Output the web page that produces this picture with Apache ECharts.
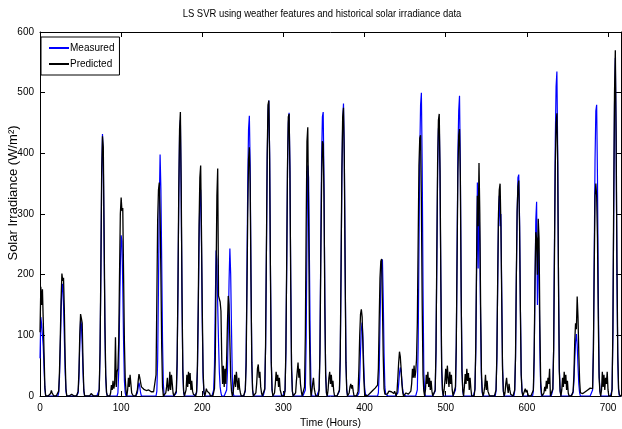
<!DOCTYPE html>
<html>
<head>
<meta charset="utf-8">
<script src="https://cdn.jsdelivr.net/npm/echarts@6/dist/echarts.min.js"></script>
<style>
  html, body { margin: 0; background: #fff; }
  #chart { width: 622px; height: 429px; }
</style>
</head>
<body>
<div id="chart"></div>
<script>
// hourly series, stored as runs: [startHour, value, value, ...]; hours outside a run are 0
const lastHour = 716

const measuredRuns = [
  [0, 62, 130, 118, 100, 82, 45, 12],
  [23, 5, 30, 80, 140, 178, 185, 150, 95, 40, 8],
  [47, 5, 30, 85, 125, 118, 85, 40, 8],
  [73, 10, 70, 200, 360, 432, 390, 250, 110, 30, 5],
  [96, 5, 40, 130, 215, 265, 255, 180, 90, 25, 5],
  [120, 5, 15, 22, 15, 5],
  [144, 8, 60, 180, 320, 398, 340, 220, 90, 20],
  [168, 5, 50, 170, 320, 430, 455, 330, 160, 40, 5],
  [193, 5, 40, 130, 250, 330, 340, 250, 120, 30, 5],
  [214, 10, 50, 150, 240, 225, 150, 90, 40, 15, 5],
  [230, 10, 40, 110, 190, 243, 200, 110, 30, 5],
  [253, 8, 60, 200, 350, 440, 462, 380, 200, 60, 10],
  [277, 10, 80, 230, 390, 470, 487, 400, 210, 60, 10],
  [302, 8, 70, 210, 370, 450, 467, 380, 190, 50, 8],
  [327, 10, 90, 260, 380, 360, 230, 90, 15],
  [344, 10, 80, 240, 390, 460, 468, 350, 160, 40, 5],
  [369, 8, 60, 200, 360, 450, 482, 400, 220, 60, 10],
  [393, 5, 30, 75, 110, 121, 95, 50, 15, 3],
  [417, 5, 40, 120, 190, 220, 225, 160, 70, 15, 3],
  [441, 5, 20, 38, 47, 40, 25, 10, 3],
  [465, 10, 80, 240, 400, 480, 500, 380, 180, 40, 5],
  [487, 8, 70, 220, 370, 440, 455, 360, 180, 45, 8],
  [512, 10, 80, 240, 400, 470, 495, 380, 180, 45, 8],
  [536, 10, 70, 200, 352, 210, 330, 250, 120, 30, 5],
  [562, 8, 60, 180, 290, 330, 280, 300, 170, 50, 8],
  [585, 8, 60, 190, 300, 360, 365, 290, 150, 40, 8],
  [608, 8, 60, 180, 290, 320, 150, 260, 200, 80, 15],
  [632, 10, 80, 250, 420, 510, 535, 400, 190, 45, 8],
  [657, 5, 25, 60, 90, 102, 85, 50, 20, 5],
  [681, 10, 80, 230, 390, 470, 480, 360, 170, 40, 8],
  [705, 10, 100, 300, 480, 557, 420, 200, 60, 10],
]

const predictedRuns = [
  [0, 105, 180, 150, 176, 125, 70, 15],
  [13, 4, 9, 5, 2],
  [23, 8, 40, 95, 160, 202, 190, 195, 140, 60, 12],
  [39, 3, 5, 2],
  [47, 8, 40, 100, 135, 128, 120, 55, 10],
  [62, 2, 4, 3, 1],
  [73, 12, 75, 210, 370, 428, 410, 270, 120, 35, 6],
  [87, 5, 18, 10, 25, 12, 20, 97, 15, 40, 45, 90, 200, 300, 327, 305, 310, 200, 90, 30, 8],
  [108, 10, 30, 15, 35, 20, 5, 2],
  [120, 10, 25, 36, 30, 22, 15, 13, 14, 11, 12, 10, 9, 11, 9, 10, 8, 9, 7, 8, 6, 7, 5, 6,
    35, 160, 290, 340, 352, 300, 200, 80, 15],
  [155, 5, 15, 30, 8, 12, 40, 10, 35, 20, 5],
  [168, 8, 60, 180, 340, 440, 468, 350, 170, 45, 8],
  [180, 10, 35, 15, 40, 20, 38, 10, 25, 8, 3],
  [193, 8, 50, 150, 280, 360, 380, 270, 140, 40, 8],
  [204, 5, 12, 8, 10, 6, 4],
  [215, 12, 60, 200, 330, 375, 165, 160, 155, 140, 60, 20, 50, 15, 45, 20, 60, 120, 165, 150, 90, 30, 8],
  [238, 5, 20, 35, 15, 40, 25, 10, 30, 12, 5],
  [253, 10, 50, 170, 300, 390, 410, 350, 190, 55, 10],
  [266, 5, 20, 45, 52, 30, 40, 15, 5],
  [277, 12, 85, 240, 400, 480, 487, 390, 200, 55, 10],
  [289, 5, 20, 40, 25, 35, 15, 30, 10, 5],
  [302, 10, 75, 220, 380, 460, 465, 370, 180, 45, 8],
  [315, 5, 25, 40, 55, 30, 45, 20, 8],
  [326, 15, 100, 280, 420, 443, 300, 120, 20],
  [335, 8, 20, 30, 12, 5],
  [344, 10, 70, 220, 350, 420, 415, 330, 150, 35, 5],
  [355, 10, 30, 40, 20, 35, 15, 25, 8],
  [369, 10, 65, 210, 370, 460, 475, 395, 215, 55, 10],
  [381, 5, 15, 20, 12, 18, 8],
  [392, 8, 45, 100, 135, 143, 130, 80, 30, 5],
  [404, 1, 2, 4, 5, 7, 8, 9, 11, 12, 13, 15],
  [415, 15, 18, 45, 125, 195, 222, 226, 150, 65, 12, 3],
  [428, 3, 6, 8, 5, 10, 7, 9, 6, 4, 8, 5],
  [440, 8, 30, 55, 73, 65, 45, 20, 6],
  [450, 3, 5, 2, 4, 3, 2, 5, 8, 20, 45, 30, 50, 30, 40, 60, 120, 250, 380, 425, 430, 320, 150, 35, 8],
  [475, 10, 35, 20, 40, 15, 30, 10, 25, 8],
  [487, 10, 75, 230, 385, 455, 465, 370, 190, 50, 10],
  [498, 10, 25, 45, 20, 50, 30, 15, 40, 20, 35, 10],
  [512, 15, 85, 230, 370, 430, 440, 360, 170, 40, 10],
  [523, 15, 36, 20, 45, 25, 38, 10, 30, 12],
  [536, 12, 80, 220, 330, 280, 384, 300, 150, 40, 8],
  [547, 5, 15, 35, 10, 25, 8, 5],
  [562, 10, 65, 190, 300, 340, 350, 280, 160, 45, 8],
  [573, 5, 20, 30, 15, 5, 20, 10, 3],
  [585, 10, 65, 195, 305, 345, 355, 280, 140, 35, 8],
  [596, 3, 8, 12, 6, 10, 4],
  [608, 10, 70, 190, 270, 260, 200, 292, 260, 120, 25, 5],
  [621, 5, 15, 8, 25, 12, 30, 20, 45],
  [632, 12, 75, 230, 380, 450, 466, 380, 180, 40, 8],
  [643, 10, 30, 15, 40, 20, 35, 10, 25, 5],
  [657, 8, 35, 90, 120, 110, 164, 130, 70, 25, 5],
  [667, 2, 3, 4, 5, 6, 7, 8, 9, 10, 11, 12, 13, 14, 15],
  [681, 12, 75, 210, 330, 350, 330, 260, 130, 30, 8],
  [692, 10, 40, 15, 35, 10, 30, 20, 40, 10],
  [705, 12, 110, 320, 500, 570, 430, 220, 70, 12, 2],
]

const font = "'Liberation Sans', Arial, sans-serif"

function expand(runs) {
  const out = new Array(lastHour + 1).fill(0)
  runs.forEach(([start, ...vals]) => {
    vals.forEach((v, i) => { out[start + i] = v })
  })
  return out.map((v, i) => [i, v])
}

const chart = echarts.init(document.getElementById('chart'))

const boxAxis = {
  axisLine: { show: true, onZero: false, lineStyle: { color: '#000', width: 1 } },
  axisTick: { show: true, inside: true, length: 5, lineStyle: { color: '#000' } },
  splitLine: { show: false },
}

chart.setOption({
  animation: false,
  backgroundColor: '#fff',
  legend: {
    left: 41,
    top: 37,
    orient: 'vertical',
    backgroundColor: '#fff',
    borderColor: '#000',
    borderWidth: 1,
    borderRadius: 0,
    padding: [6, 5, 6, 8],
    itemGap: 6,
    itemWidth: 20,
    itemHeight: 2,
    icon: 'rect',
    textStyle: { fontSize: 10, color: '#000', fontFamily: font, padding: [0, 0, 0, -4] },
    data: ['Measured', 'Predicted'],
  },
  grid: { left: 40, right: 1, top: 32, bottom: 33, containLabel: false, outerBoundsMode: 'none' },
  graphic: [
    {
      type: 'text',
      x: 322,
      y: 14,
      scaleX: 0.86,
      style: {
        text: 'LS SVR using weather features and historical solar irradiance data',
        font: '11px ' + font,
        fill: '#000',
        align: 'center',
        verticalAlign: 'middle',
      },
    },
    {
      type: 'text',
      x: 13,
      y: 193,
      rotation: Math.PI / 2,
      style: {
        text: 'Solar Irradiance (W/m²)',
        font: '13px ' + font,
        fill: '#000',
        align: 'center',
        verticalAlign: 'middle',
      },
    },
  ],
  xAxis: [
    {
      ...boxAxis,
      type: 'value',
      position: 'bottom',
      min: 0,
      max: lastHour,
      interval: 100,
      axisLabel: { color: '#000', fontSize: 10, fontFamily: font, margin: 7, showMaxLabel: false },
      name: 'Time (Hours)',
      nameLocation: 'middle',
      nameGap: 11,
      nameTextStyle: { fontSize: 10.5, color: '#000', fontFamily: font },
    },
    {
      ...boxAxis,
      type: 'value',
      position: 'top',
      min: 0,
      max: lastHour,
      interval: 100,
      axisLabel: { show: false },
    },
  ],
  yAxis: [
    {
      ...boxAxis,
      type: 'value',
      position: 'left',
      min: 0,
      max: 600,
      interval: 100,
      axisLabel: { color: '#000', fontSize: 10, fontFamily: font, margin: 6 },
    },
    {
      ...boxAxis,
      type: 'value',
      position: 'right',
      min: 0,
      max: 600,
      interval: 100,
      axisLabel: { show: false },
    },
  ],
  series: [
    {
      name: 'Measured',
      type: 'line',
      xAxisIndex: 0,
      yAxisIndex: 0,
      showSymbol: false,
      color: '#0000ff',
      lineStyle: { width: 1.2, color: '#0000ff' },
      data: expand(measuredRuns),
    },
    {
      name: 'Predicted',
      type: 'line',
      xAxisIndex: 0,
      yAxisIndex: 0,
      showSymbol: false,
      color: '#000',
      lineStyle: { width: 1.3, color: '#000' },
      data: expand(predictedRuns),
    },
  ],
})
</script>
</body>
</html>
